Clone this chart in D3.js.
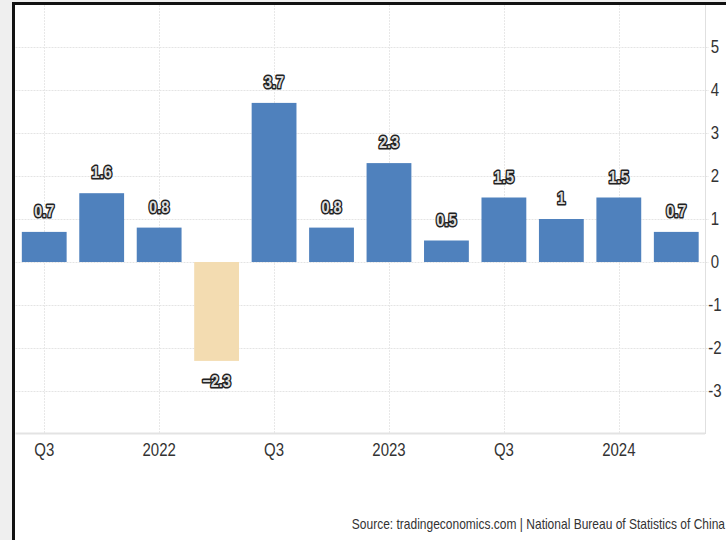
<!DOCTYPE html>
<html>
<head>
<meta charset="utf-8">
<script src="https://cdn.jsdelivr.net/npm/d3@7"></script>
<style>
  html, body { margin: 0; padding: 0; background: #efefef; }
  svg { display: block; }
  text { font-family: "Liberation Sans", Arial, sans-serif; }
</style>
</head>
<body>
<svg id="chart" width="726" height="540"></svg>
<script>
// Quarterly GDP growth (QoQ, %)
const quarters = ["2021Q3", "2021Q4", "2022Q1", "2022Q2", "2022Q3", "2022Q4",
                  "2023Q1", "2023Q2", "2023Q3", "2023Q4", "2024Q1", "2024Q2"];
const growth = [0.7, 1.6, 0.8, -2.3, 3.7, 0.8, 2.3, 0.5, 1.5, 1, 1.5, 0.7];
const xTickLabels = ["Q3", "", "2022", "", "Q3", "", "2023", "", "Q3", "", "2024", ""];
const yTicks = [-3, -2, -1, 0, 1, 2, 3, 4, 5];
const sourceText = "Source: tradingeconomics.com | National Bureau of Statistics of China";

const svg = d3.select("#chart");
const W = 726, H = 540;
const stretch = 1.2;

// page panel with black frame on left and top
svg.append("rect").attr("x", 12).attr("y", 2).attr("width", W - 12).attr("height", H - 2).attr("fill", "#fff");
svg.append("rect").attr("x", 12).attr("y", 2).attr("width", 3).attr("height", H).attr("fill", "#111");
svg.append("rect").attr("x", 12).attr("y", 2).attr("width", W - 12).attr("height", 3).attr("fill", "#111");

const plotLeft = 15.5, plotRight = 705, plotTop = 5, plotBottom = 434;

const x = d3.scaleBand()
  .domain(quarters)
  .range([plotLeft, plotRight])
  .paddingInner(0.22)
  .paddingOuter(0.11);

const y = d3.scaleLinear().domain([-4, 6]).range([plotBottom, 4]);

const grid = svg.append("g");
// horizontal grid
grid.selectAll("line.h").data(yTicks).join("line")
  .attr("x1", plotLeft).attr("x2", plotRight + 4)
  .attr("y1", d => Math.round(y(d)) + 0.5).attr("y2", d => Math.round(y(d)) + 0.5)
  .attr("stroke", "#e4e4e4").attr("stroke-width", 1).attr("stroke-dasharray", "2,1");
// vertical grid at labelled quarters
const labelled = quarters.filter((q, i) => xTickLabels[i] !== "");
grid.selectAll("line.v").data(labelled).join("line")
  .attr("x1", d => Math.round(x(d) + x.bandwidth() / 2) + 0.5)
  .attr("x2", d => Math.round(x(d) + x.bandwidth() / 2) + 0.5)
  .attr("y1", plotTop).attr("y2", plotBottom)
  .attr("stroke", "#e8e8e8").attr("stroke-width", 1).attr("stroke-dasharray", "2,1");

// axis lines
svg.append("line").attr("x1", plotRight + 0.5).attr("x2", plotRight + 0.5)
  .attr("y1", plotTop).attr("y2", plotBottom).attr("stroke", "#e0e0e0");
svg.append("line").attr("x1", plotLeft).attr("x2", plotRight)
  .attr("y1", plotBottom - 0.5).attr("y2", plotBottom - 0.5).attr("stroke", "#e3e3e3").attr("stroke-width", 2);

// bars
svg.append("g").selectAll("rect").data(quarters).join("rect")
  .attr("x", d => x(d))
  .attr("width", x.bandwidth())
  .attr("y", (d, i) => y(Math.max(0, growth[i])))
  .attr("height", (d, i) => Math.abs(y(growth[i]) - y(0)))
  .attr("fill", (d, i) => growth[i] < 0 ? "#f3dcb1" : "#4f81bd");

// value labels
svg.append("g").selectAll("text").data(quarters).join("text")
  .attr("transform", (d, i) => {
    const cx = x(d) + x.bandwidth() / 2;
    const v = growth[i];
    const by = v >= 0 ? y(v) - 15 : y(v) + 26;
    return `translate(${cx},${by}) scale(1,${stretch})`;
  })
  .attr("text-anchor", "middle")
  .attr("font-size", 14.5)
  .attr("font-weight", "bold")
  .attr("fill", "#dcdcdc")
  .attr("stroke", "#222")
  .attr("stroke-width", 2.6)
  .attr("stroke-linejoin", "round")
  .style("paint-order", "stroke")
  .text((d, i) => growth[i] < 0 ? "\u2212" + Math.abs(growth[i]) : String(growth[i]));

// x tick labels
svg.append("g").selectAll("text").data(quarters).join("text")
  .attr("transform", d => `translate(${x(d) + x.bandwidth() / 2},456) scale(1,${stretch})`)
  .attr("text-anchor", "middle")
  .attr("font-size", 15)
  .attr("fill", "#333")
  .text((d, i) => xTickLabels[i]);

// y tick labels on the right
svg.append("g").selectAll("text").data(yTicks).join("text")
  .attr("transform", d => `translate(715,${y(d) + 6}) scale(1,${stretch})`)
  .attr("text-anchor", "middle")
  .attr("font-size", 15)
  .attr("fill", "#333")
  .text(d => String(d));

// source line
svg.append("text")
  .attr("transform", `translate(725,529) scale(1,${stretch})`)
  .attr("text-anchor", "end")
  .attr("font-size", 12)
  .attr("fill", "#333")
  .text(sourceText);
</script>
</body>
</html>
